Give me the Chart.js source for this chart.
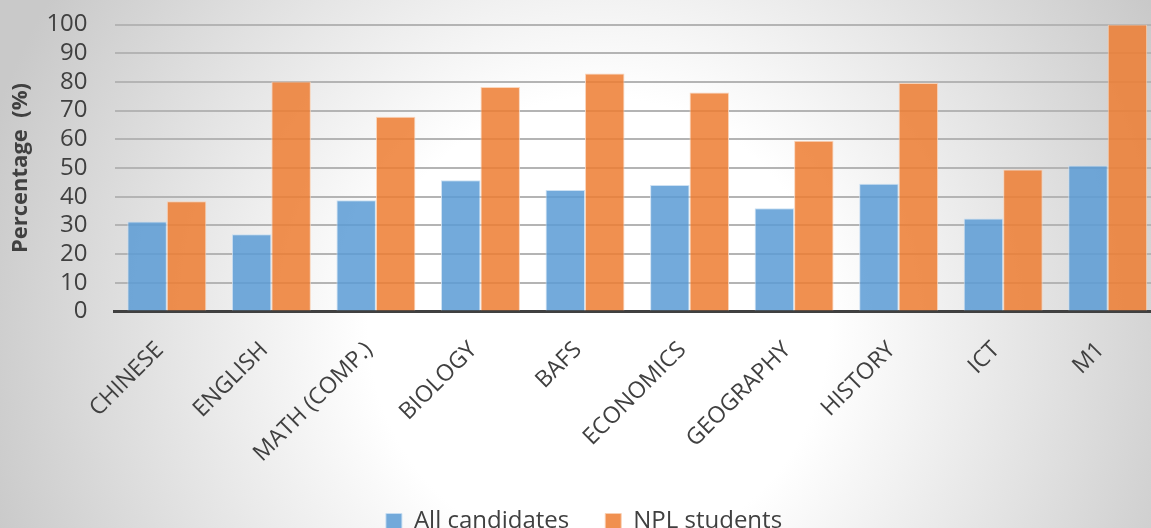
<!DOCTYPE html>
<html>
<head>
<meta charset="utf-8">
<script src="https://cdn.jsdelivr.net/npm/chart.js@4.4.1/dist/chart.umd.min.js"></script>
<style>
  html, body { margin: 0; padding: 0; overflow: hidden; }
  body {
    width: 1151px; height: 528px;
    background: radial-gradient(circle at 52% 62%, #ffffff 0px, #ffffff 230px, #c9c9c9 640px);
  }
  #wrap { width: 1160px; height: 528px; position: relative; }
</style>
</head>
<body>
<div id="wrap"><canvas id="chart"></canvas></div>
<script>
const subjects = ["CHINESE", "ENGLISH", "MATH (COMP.)", "BIOLOGY", "BAFS", "ECONOMICS", "GEOGRAPHY", "HISTORY", "ICT", "M1"];
const allCandidates = [31.4, 26.9, 38.8, 45.7, 42.3, 44.1, 36.0, 44.5, 32.4, 50.9];
const nplStudents = [38.4, 80.1, 67.9, 78.2, 82.9, 76.3, 59.5, 79.6, 49.5, 100];
const yTicks = [0, 10, 20, 30, 40, 50, 60, 70, 80, 90, 100];

const FONT = "'Open Sans', 'DejaVu Sans', sans-serif";
const TEXT = "#404040";

new Chart(document.getElementById("chart"), {
  type: "bar",
  data: {
    labels: subjects,
    datasets: [
      { label: "All candidates", data: allCandidates, backgroundColor: "rgba(91,155,213,0.85)", borderColor: "rgba(200,222,242,0.9)", borderWidth: 1 },
      { label: "NPL students", data: nplStudents, backgroundColor: "rgba(237,125,49,0.85)", borderColor: "rgba(249,208,180,0.9)", borderWidth: 1 }
    ]
  },
  options: {
    responsive: true,
    maintainAspectRatio: false,
    animation: false,
    layout: { padding: { top: 24.5, bottom: -15.5, left: 8, right: 0 } },
    datasets: { bar: { categoryPercentage: 0.755, barPercentage: 1 } },
    scales: {
      x: {
        grid: { display: false, drawTicks: false },
        border: { display: true, color: "#404040", width: 3 },
        ticks: { color: TEXT, font: { family: FONT, size: 23 }, minRotation: 45, maxRotation: 45, padding: 25, labelOffset: -7, autoSkip: false },
        afterFit: scale => { scale.height = 162; }
      },
      y: {
        min: 0, max: 100,
        afterBuildTicks: axis => { axis.ticks = yTicks.map(v => ({ value: v })); },
        afterFit: scale => { scale.paddingTop = 0; scale.paddingBottom = 0; },
        grid: { color: "#b4b4b4", lineWidth: 2, drawTicks: false },
        border: { display: false },
        ticks: { color: TEXT, font: { family: FONT, size: 24, lineHeight: 1 }, padding: 27, autoSkip: false },
        title: { display: true, text: "Percentage  (%)", color: TEXT, font: { family: FONT, size: 22, weight: "bold" }, padding: { top: 0, bottom: -15 } }
      }
    },
    plugins: {
      legend: {
        position: "bottom",
        labels: { color: TEXT, font: { family: FONT, size: 24 }, boxWidth: 16, boxHeight: 16, padding: 36 }
      },
      tooltip: { enabled: false }
    }
  }
});
</script>
</body>
</html>
